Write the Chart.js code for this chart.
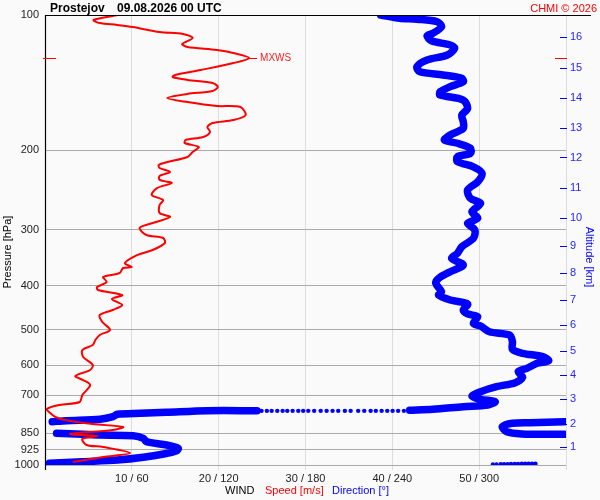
<!DOCTYPE html>
<html>
<head>
<meta charset="utf-8">
<title>Prostejov 09.08.2026 00 UTC</title>
<script src="https://cdn.jsdelivr.net/npm/chart.js@4.4.1/dist/chart.umd.min.js"></script>
<style>
  html, body { margin: 0; padding: 0; background: #fafafa; }
  canvas { display: block; }
</style>
</head>
<body>
<canvas id="sounding" width="600" height="500"></canvas>
<script>
// pressure levels [hPa] of the left axis
var pressureTicks = [100, 200, 300, 400, 500, 600, 700, 850, 925, 1000];
// altitude ticks [km] and the pressure at which each one sits
var altLabels = ['16', '15', '14', '13', '12', '11', '10', '9', '8', '7', '6', '5', '4', '3', '2', '1'];
var altP = [111.7, 131.0, 152.7, 178.0, 207.3, 242.8, 283.0, 326.2, 375.0, 428.8, 488.6, 557.2, 632.3, 714.5, 812.0, 910.4];
// wind speed ticks [m/s], direction shown as speed * 6
var speedTicks = [0, 10, 20, 30, 40, 50, 60];

// wind speed profile
var speedP = [100, 102.6, 104.2, 105.2, 106.3, 109.1, 110.2, 112.5, 116.0, 117.8,
  119.6, 121.5, 124.6, 127.9, 132.5, 135.9, 137.3, 139.4, 141.6, 144.5,
  147.5, 149.8, 152.9, 156.1, 159.3, 160.1, 166.9, 171.2, 173.8, 177.4,
  182.0, 186.7, 189.6, 192.5, 196.5, 201.6, 206.8, 212.2, 215.4, 218.8,
  223.3, 227.9, 232.6, 236.2, 242.4, 251.2, 257.7, 264.4, 275.4, 281.1,
  289.9, 297.4, 308.3, 313.0, 321.1, 332.9, 341.6, 355.9, 363.1, 364.9,
  374.4, 382.2, 392.1, 402.3, 408.5, 419.2, 427.7, 441.0, 452.4, 464.2,
  481.1, 501.2, 514.2, 527.5, 541.2, 555.2, 575.4, 599.5, 615.0, 634.5,
  647.6, 664.4, 699.3, 724.4, 735.6, 750.8, 766.4, 782.2, 794.3, 810.7,
  823.3, 836.0, 853.4, 862.1, 875.5, 902.6, 912.0, 940.4, 960.0, 984.8];
var speedVal = [8.4, 5.6, 6.3, 8.3, 10.1, 13.2, 15.9, 17.0, 15.8, 16.4,
  19.8, 21.7, 23.5, 21.7, 17.9, 15.0, 14.7, 16.4, 19.3, 19.9,
  19.3, 16.4, 14.1, 16.4, 19.8, 22.5, 23.1, 21.7, 19.3, 18.7,
  19.0, 18.2, 16.2, 16.1, 17.7, 17.0, 16.4, 14.1, 13.1, 13.2,
  14.4, 13.2, 13.2, 14.6, 12.9, 12.3, 13.6, 13.2, 13.2, 14.4,
  12.4, 10.9, 11.7, 13.6, 13.8, 12.4, 10.6, 9.2, 10.0, 9.0,
  8.6, 6.7, 7.1, 6.0, 6.1, 8.9, 7.7, 8.9, 7.8, 6.3,
  6.6, 7.5, 6.3, 5.8, 5.5, 4.3, 4.4, 5.5, 5.2, 3.5,
  4.4, 5.2, 4.3, 4.0, 1.7, 0.2, 0.6, 1.2, 2.3, 5.5,
  9.0, 7.8, 2.9, 6.0, 4.3, 4.8, 6.7, 9.8, 6.7, 3.2];

// max wind speed
var mxwsP = 124.6;
var mxwsVal = 23.5;

// wind direction profile (null = break where it wraps 360/0)
var dirP = [100, 101.7, 102.2, 103.5, 106.2, 109.8, 111.3, 114.1, 116.6, 118.6,
  122.7, 125.9, 130.3, 133.7, 135.9, 138.3, 140.7, 144.3, 148.1, 150.6,
  154.5, 161.2, 166.9, 172.6, 178.6, 184.8, 189.6, 192.8, 197.8, 203.0,
  206.5, 211.8, 217.4, 224.9, 234.7, 244.9, 255.5, 262.2, 273.7, 283.0,
  290.4, 300.5, 313.5, 327.3, 338.6, 347.3, 359.4, 371.9, 384.7, 394.7,
  412.1, 419.2, 429.9, 438.8, 452.4, 461.7, 468.2, 484.3, 491.1, 505.7,
  514.2, 532.1, 553.3, 564.8, 574.4, 586.6, 594.3, 609.8, 620.4, 638.5,
  656.3, 669.9, 687.3, 702.6, 714.5, 723.3, 735.6, 742.0, 751.9, 755.8,
  null,
  757.4, 757.4, 763.7, 767.6, 771.5, 781.1, 791.4, 797.2, 801.3,
  null,
  801.3, 805.4, 807.8, 822.1, 843.4, 853.4, 854.8, 854.8,
  null,
  850.5, 854.8, 857.7, 860.9, 872.4, 887.6, 902.6, 918.0, 929.3, 945.2,
  961.5, 975.0, 983.3, 991.3];
var dirVal = [232, 245, 257, 271, 274, 268, 264, 267, 280, 283,
  278, 264, 257, 259, 275, 288, 289, 280, 273, 273,
  289, 292, 288, 289, 289, 280, 276, 285, 294, 294,
  285, 285, 296, 302, 299, 292, 294, 301, 295, 299,
  292, 297, 296, 288, 285, 281, 289, 280, 272, 270,
  274, 272, 280, 292, 289, 292, 299, 296, 301, 307,
  321, 323, 323, 330, 344, 348, 340, 333, 327, 330,
  325, 312, 301, 295, 301, 311, 306, 289, 268, 252,
  null,
  146.5, 112, 84, 66, 50, 47, 38, 15, 5,
  null,
  359, 335, 323, 316, 319, 330, 344, 359,
  null,
  8, 26, 38, 61, 68, 70, 84, 92, 91, 82,
  68, 50, 26, 3];

// single direction samples where the direction turns fast (~758 hPa)
var jumpP = [758, 758, 758, 758, 758, 758, 758, 758, 758, 758, 758, 758, 758,
  758, 758, 758, 758, 758, 758, 758, 758, 758, 758, 758, 758, 758];
var jumpVal = [149.6, 153.3, 156.6, 160.5, 164.2, 167.4, 171.1, 175, 178.4, 181.9,
  186, 190.5, 194.6, 198.7, 202.6, 207.2, 211.2, 216.4, 220.6, 225,
  228.6, 232.6, 236.5, 240.2, 244, 248];
// samples near the ground
var sfcP = [997, 997, 996, 996, 996, 995, 995, 995, 994, 994, 994, 993, 993];
var sfcVal = [309.5, 312, 314.9, 317.2, 319.6, 322, 324.6, 326.9, 329.5, 331.8, 334.2, 336.6, 338.9];

var FONT = '"Liberation Sans", Arial, sans-serif';
var RED = '#ff0000';
var BLUE = '#0000ff';

function pts(xs, ys) {
  var out = [];
  for (var i = 0; i < xs.length; i++) {
    out.push({ x: xs[i], y: ys[i] });
  }
  return out;
}

// axis lines, altitude dashes, MXWS mark and all the texts
var extras = {
  id: 'extras',
  beforeDraw: function (chart) {
    var c = chart.ctx;
    c.save();
    c.fillStyle = '#fafafa';
    c.fillRect(0, 0, chart.width, chart.height);
    c.restore();
  },
  afterDraw: function (chart) {
    var c = chart.ctx;
    var a = chart.chartArea;
    var sx = chart.scales.x;
    var sy = chart.scales.y;
    c.save();

    // frame
    c.strokeStyle = '#000';
    c.lineWidth = 1.2;
    c.beginPath();
    c.moveTo(a.left + 0.5, a.top);
    c.lineTo(a.left + 0.5, a.bottom + 5);
    c.moveTo(a.left, a.top + 0.5);
    c.lineTo(591, a.top + 0.5);
    c.stroke();

    // altitude dashes
    c.lineWidth = 1;
    c.strokeStyle = BLUE;
    c.beginPath();
    for (var i = 0; i < altP.length; i++) {
      var yy = Math.round(sy.getPixelForValue(altP[i])) + 0.5;
      c.moveTo(a.right - 6, yy);
      c.lineTo(a.right + 1, yy);
    }
    c.stroke();

    // max wind speed
    var my = Math.round(sy.getPixelForValue(mxwsP)) + 0.5;
    var mx = sx.getPixelForValue(mxwsVal);
    c.strokeStyle = RED;
    c.beginPath();
    c.moveTo(a.left - 2, my); c.lineTo(a.left + 11, my);
    c.moveTo(a.right - 11, my); c.lineTo(a.right + 1, my);
    c.moveTo(mx - 2, my); c.lineTo(mx + 8, my);
    c.stroke();
    c.fillStyle = '#ff2020';
    c.font = '10px ' + FONT;
    c.textBaseline = 'middle';
    c.textAlign = 'left';
    c.fillText('MXWS', mx + 11, my);

    // title
    c.fillStyle = '#000';
    c.font = 'bold 12px ' + FONT;
    c.textBaseline = 'alphabetic';
    c.fillText('Prostejov', 50, 12);
    c.fillText('09.08.2026 00 UTC', 117, 12);
    c.fillStyle = RED;
    c.font = '11px ' + FONT;
    c.textAlign = 'right';
    c.fillText('CHMI \u00a9 2026', 597, 12);

    // bottom legend line
    c.textAlign = 'left';
    c.textBaseline = 'middle';
    c.fillStyle = '#000';
    c.fillText('WIND', 225, 491);
    c.fillStyle = RED;
    c.fillText('Speed [m/s]', 265, 491);
    c.fillStyle = BLUE;
    c.fillText('Direction [\u00b0]', 332, 491);

    // axis titles
    c.textAlign = 'center';
    c.save();
    c.translate(8, 252);
    c.rotate(-Math.PI / 2);
    c.fillStyle = '#000';
    c.fillText('Pressure [hPa]', 0, 0);
    c.restore();
    c.save();
    c.translate(589, 257);
    c.rotate(Math.PI / 2);
    c.fillStyle = BLUE;
    c.fillText('Altitude [km]', 0, 0);
    c.restore();

    c.restore();
  }
};

var ctx = document.getElementById('sounding');
var sounding = new Chart(ctx, {
  type: 'scatter',
  data: {
    datasets: [{
      label: 'Speed',
      data: pts(speedVal, speedP),
      xAxisID: 'x',
      yAxisID: 'y',
      showLine: true,
      borderColor: RED,
      borderWidth: 2,
      pointRadius: 0,
      tension: 0.3
    }, {
      label: 'Direction',
      data: pts(dirVal, dirP),
      xAxisID: 'x2',
      yAxisID: 'y',
      showLine: true,
      spanGaps: false,
      borderColor: BLUE,
      borderWidth: 7.5,
      borderCapStyle: 'round',
      borderJoinStyle: 'round',
      pointRadius: 0,
      tension: 0.3
    }, {
      label: 'Direction samples',
      data: pts(jumpVal, jumpP),
      xAxisID: 'x2',
      yAxisID: 'y',
      showLine: false,
      pointRadius: 2.2,
      pointBorderWidth: 0,
      pointBackgroundColor: BLUE
    }, {
      label: 'Direction ground',
      data: pts(sfcVal, sfcP),
      xAxisID: 'x2',
      yAxisID: 'y',
      showLine: false,
      pointRadius: 2.2,
      pointBorderWidth: 0,
      pointBackgroundColor: BLUE
    }]
  },
  options: {
    responsive: false,
    animation: false,
    layout: { padding: { top: 15, left: 0, right: 0, bottom: 0 } },
    plugins: {
      legend: { display: false },
      tooltip: { enabled: false },
      title: { display: false }
    },
    scales: {
      x: {
        type: 'linear',
        position: 'bottom',
        min: 0,
        max: 60,
        afterBuildTicks: function (scale) {
          scale.ticks = speedTicks.map(function (v) { return { value: v }; });
        },
        afterFit: function (scale) { scale.height = 35; },
        grid: { color: '#dcdcdc', tickColor: '#dcdcdc', tickLength: 5 },
        border: { display: false },
        ticks: {
          autoSkip: false,
          maxRotation: 0,
          padding: 2,
          color: '#222',
          font: { family: FONT, size: 11 },
          callback: function (v) {
            if (v === 0 || v === 60) return '';
            return v + ' / ' + (v * 6);
          }
        }
      },
      x2: {
        type: 'linear',
        display: false,
        min: 0,
        max: 360
      },
      y: {
        type: 'logarithmic',
        position: 'left',
        reverse: true,
        min: 100,
        max: 1000,
        afterBuildTicks: function (scale) {
          scale.ticks = pressureTicks.map(function (v) { return { value: v }; });
        },
        afterFit: function (scale) { scale.width = 45; },
        grid: { color: '#aaaaaa', drawTicks: false },
        border: { display: false },
        ticks: {
          autoSkip: false,
          padding: 6,
          color: '#222',
          font: { family: FONT, size: 11 },
          callback: function (v) { return String(v); }
        }
      },
      y2: {
        type: 'logarithmic',
        position: 'right',
        reverse: true,
        min: 100,
        max: 1000,
        afterBuildTicks: function (scale) {
          scale.ticks = altP.map(function (v) { return { value: v }; });
        },
        afterFit: function (scale) { scale.width = 34; },
        grid: { display: false, drawTicks: false },
        border: { display: false },
        ticks: {
          autoSkip: false,
          padding: 4,
          color: '#2424ff',
          font: { family: FONT, size: 11 },
          callback: function (v, i) { return altLabels[i]; }
        }
      }
    }
  },
  plugins: [extras]
});
</script>
</body>
</html>
